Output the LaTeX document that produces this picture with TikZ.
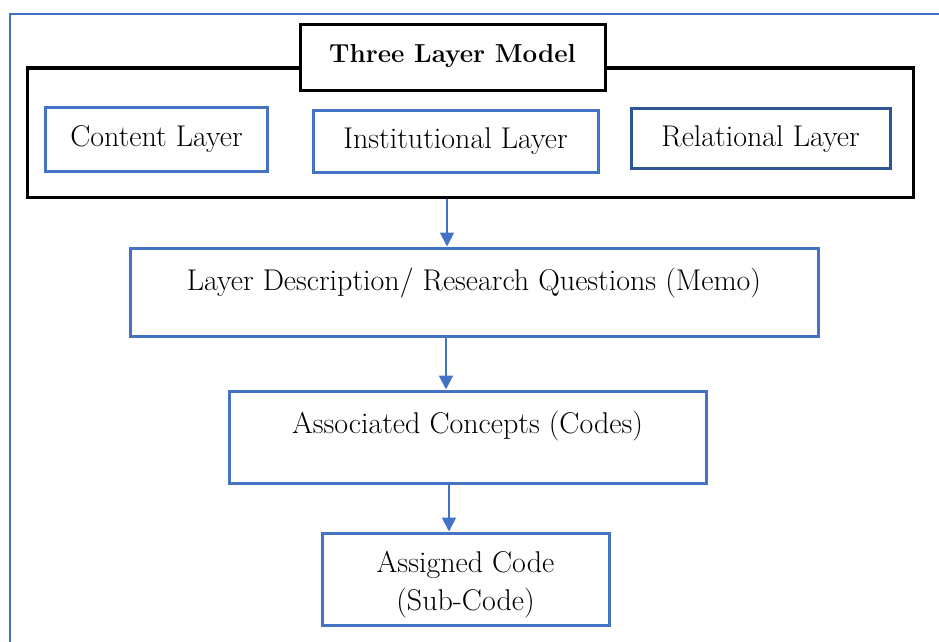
\documentclass[tikz,border=0pt]{standalone}
\usepackage{fontspec}
\setmainfont{Latin Modern Roman}
\usetikzlibrary{arrows.meta}
\definecolor{boxblue}{HTML}{4472C4}
\definecolor{deepblue}{HTML}{2F5597}
% place a label so that its baseline sits a given distance above the node centre
\newcommand{\basedat}[2]{\raisebox{#1}[0pt][0pt]{#2}}
\begin{document}
\begin{tikzpicture}[x=1pt,y=-1pt,
  every node/.style={font=\fontsize{30}{38}\selectfont},
  bluebox/.style={draw=boxblue,line width=3pt,rectangle,inner sep=0pt},
  blackbox/.style={draw=black,line width=3pt,rectangle,inner sep=0pt},
  flow/.style={draw=boxblue,line width=1.8pt,-{Triangle[width=14pt,length=14pt]}}]
\useasboundingbox (0,0) rectangle (939,642);
% page frame
\draw[boxblue,line width=2pt] (939,14) -- (10,14) -- (10,642);
% container of the three layers
\node[blackbox,minimum width=886pt,minimum height=129pt] (model) at (470,132.5) {};
\node[blackbox,fill=white,minimum width=305pt,minimum height=65pt,font=\fontsize{26}{30}\selectfont\bfseries] (title) at (452.5,57.5) {\basedat{-5.5pt}{Three Layer Model}};
\node[bluebox,minimum width=222pt,minimum height=64pt] (content) at (156.5,139.5) {\basedat{-6.5pt}{Content Layer}};
\node[bluebox,minimum width=285pt,minimum height=62pt] (inst) at (455.5,141) {\basedat{-7pt}{Institutional Layer}};
\node[bluebox,draw=deepblue,minimum width=259pt,minimum height=60pt] (rel) at (760.5,138) {\basedat{-8pt}{Relational Layer}};
% flow boxes
\node[bluebox,minimum width=688pt,minimum height=88pt] (desc) at (474,292) {\basedat{2pt}{Layer Description/ Research Questions (Memo)}};
\node[bluebox,minimum width=477pt,minimum height=92pt] (assoc) at (467.5,437) {\basedat{4pt}{Associated Concepts (Codes)}};
\node[bluebox,minimum width=287pt,minimum height=92pt] (assigned) at (465.5,579) {\basedat{-31pt}{\begin{tabular}[b]{@{}c@{}}Assigned Code\\(Sub-Code)\end{tabular}}};
% connectors
\coordinate (c1) at (447,0);
\coordinate (c2) at (446,0);
\coordinate (c3) at (449,0);
\draw[flow] (model.south -| c1) -- (desc.north -| c1);
\draw[flow] (desc.south -| c2) -- (assoc.north -| c2);
\draw[flow] (assoc.south -| c3) -- (assigned.north -| c3);
\end{tikzpicture}
\end{document}
